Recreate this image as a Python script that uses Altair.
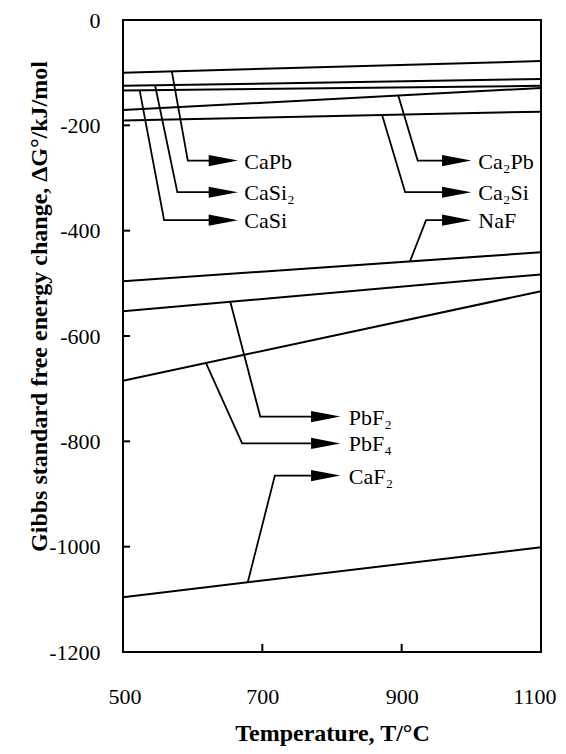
import altair as alt
import pandas as pd

# ---- data ----
T_ENDS = [500, 1100]
compounds = ["CaPb", "CaSi2", "CaSi", "Ca2Pb", "Ca2Si", "NaF", "PbF2", "PbF4", "CaF2"]
g_at_500 = [-100, -125, -134, -171, -191, -496, -553, -685, -1096]
g_at_1100 = [-78, -112, -125, -129, -174, -441, -483, -515, -1001]

label_text = ["CaPb", "CaSi₂", "CaSi", "Ca₂Pb", "Ca₂Si", "NaF", "PbF₂", "PbF₄", "CaF₂"]
leader_start_T = [570, 546, 524, 895, 872, 912, 654, 619, 679]
leader_start_G = [-97, -124, -134, -143, -181, -458, -535, -651, -1068]
corner_T = [593, 578, 559, 923, 905, 935, 697, 671, 718]
row_G = [-267, -327, -380, -267, -327, -380, -753, -804, -865]
arrow_T = [644, 644, 644, 979, 979, 979, 791, 791, 791]
label_T = [674, 674, 674, 1010, 1010, 1010, 824, 824, 824]

y_tick_values = [0, -200, -400, -600, -800, -1000, -1200]
x_tick_values = [500, 700, 900, 1100]
x_inner_ticks = [700, 900]

W, H = 418, 632
SERIF = "Liberation Serif"

# ---- tables ----
rows = []
for c, a, b in zip(compounds, g_at_500, g_at_1100):
    rows.append({"name": c, "T": T_ENDS[0], "G": a, "o": 0})
    rows.append({"name": c, "T": T_ENDS[1], "G": b, "o": 1})
lines_df = pd.DataFrame(rows)

lrows = []
for i, c in enumerate(compounds):
    lrows.append({"name": c, "T": leader_start_T[i], "G": leader_start_G[i], "o": 0})
    lrows.append({"name": c, "T": corner_T[i], "G": row_G[i], "o": 1})
    lrows.append({"name": c, "T": arrow_T[i], "G": row_G[i], "o": 2})
leaders_df = pd.DataFrame(lrows)

arrows_df = pd.DataFrame({"T": arrow_T, "G": row_G})
labels_df = pd.DataFrame({"T": label_T, "G": row_G, "label": label_text})
yt_df = pd.DataFrame({"G": y_tick_values})
xt_df = pd.DataFrame({"T": x_inner_ticks})

xscale = alt.Scale(domain=[500, 1100], nice=False, zero=False)
yscale = alt.Scale(domain=[-1200, 0], nice=False, zero=False)

x_axis = alt.Axis(
    values=x_tick_values, labelExpr="'' + datum.value", labelFont=SERIF,
    labelFontSize=22, labelColor="black", labelPadding=51,
    labelBaseline="alphabetic", labelFlush=True, labelFlushOffset=15,
    labelOverlap=False,
    ticks=False, tickSize=0, domain=False, grid=False,
    title="Temperature, T/°C", titleFont=SERIF, titleFontSize=24,
    titleFontWeight="bold", titleColor="black", titleBaseline="alphabetic",
    titleY=88, titleX=W / 2, titleAlign="center",
)
y_axis = alt.Axis(
    values=y_tick_values, labelExpr="'' + datum.value", labelFont=SERIF,
    labelFontSize=22, labelColor="black", labelPadding=23, labelFlush=False,
    labelOverlap=False, ticks=False, tickSize=0, domain=False, grid=False,
    title="Gibbs standard free energy change, ΔG°/kJ/mol", titleFont=SERIF,
    titleFontSize=24, titleFontWeight="bold", titleColor="black",
    titleAngle=270, titleBaseline="alphabetic", titleAlign="center",
    titleX=-77, titleY=286,
)

X = alt.X("T:Q", scale=xscale)
Y = alt.Y("G:Q", scale=yscale)

lines = alt.Chart(lines_df).mark_line(color="black", strokeWidth=2).encode(
    x=alt.X("T:Q", scale=xscale, axis=x_axis),
    y=alt.Y("G:Q", scale=yscale, axis=y_axis),
    detail="name:N",
    order="o:Q",
)

leaders = alt.Chart(leaders_df).mark_line(color="black", strokeWidth=1.8).encode(
    x=X, y=Y, detail="name:N", order="o:Q",
)

arrows = alt.Chart(arrows_df).mark_point(
    shape="M -1 -0.38 L 1 0 L -1 0.38 Z", filled=True, color="black",
    opacity=1, size=860, strokeWidth=0,
).encode(x=X, y=Y)

labels = alt.Chart(labels_df).mark_text(
    align="left", baseline="middle", font=SERIF, fontSize=22, color="black", dy=1,
).encode(x=X, y=Y, text="label:N")

yticks = alt.Chart(yt_df).mark_rule(color="black", strokeWidth=2).encode(
    y=Y, x=alt.value(0), x2=alt.value(7),
)

xticks = alt.Chart(xt_df).mark_rule(color="black", strokeWidth=2).encode(
    x=X, y=alt.value(H), y2=alt.value(H - 8),
)

chart = alt.layer(lines, leaders, arrows, labels, yticks, xticks).properties(
    width=W, height=H,
    autosize=alt.AutoSizeParams(type="none"),
    padding={"left": 115, "top": 12, "right": 17, "bottom": 94},
    background="white",
).configure_view(stroke="black", strokeWidth=2)

chart.save("out.html", embed_options={"renderer": "svg", "actions": False})
